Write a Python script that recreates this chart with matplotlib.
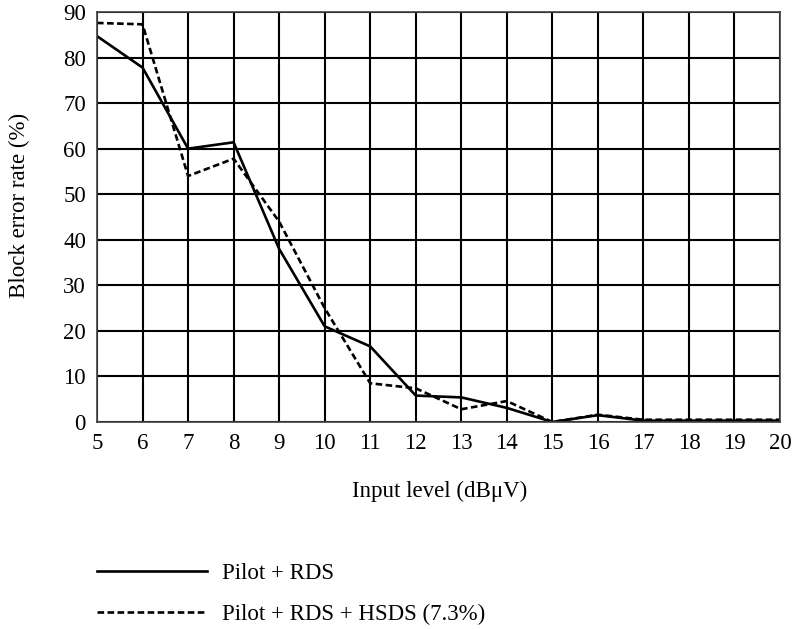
import matplotlib
matplotlib.use("Agg")
import matplotlib.pyplot as plt

input_level = [5, 6, 7, 8, 9, 10, 11, 12, 13, 14, 15, 16, 17, 18, 19, 20]
pilot_rds = [84.7, 77.8, 60.0, 61.4, 38.0, 21.0, 16.6, 5.8, 5.4, 3.1, 0.0, 1.5, 0.3, 0.3, 0.3, 0.3]
pilot_rds_hsds = [87.6, 87.3, 54.0, 57.8, 44.0, 25.0, 8.5, 7.4, 2.8, 4.6, 0.0, 1.6, 0.5, 0.5, 0.5, 0.5]
y_ticks = [0, 10, 20, 30, 40, 50, 60, 70, 80, 90]
labels = ["Pilot + RDS", "Pilot + RDS + HSDS (7.3%)"]

plt.rcParams['font.family'] = ['Liberation Serif', 'DejaVu Serif']

FS = 16.5
fig = plt.figure(figsize=(7.93, 6.29), dpi=100)
ax = fig.add_axes([97/793, 1 - 422/629, (780 - 97)/793, (422 - 12)/629])

l1, = ax.plot(input_level, pilot_rds, color='black', lw=1.9, linestyle='-')
l2, = ax.plot(input_level, pilot_rds_hsds, color='black', lw=1.9, linestyle=(0, (2.5, 1.3)))

ax.set_xlim(5, 20)
ax.set_ylim(0, 90)
ax.set_xticks(input_level)
ax.set_yticks(y_ticks)
ax.grid(True, color='black', lw=1.5)
ax.set_axisbelow(True)
for s in ax.spines.values():
    s.set_color('#404040')
    s.set_linewidth(1.2)
ax.tick_params(length=0, labelsize=FS, pad=8)
ax.set_xlabel("Input level (dBμV)", fontsize=FS)
ax.set_ylabel("Block error rate (%)", fontsize=FS)
ax.xaxis.set_label_coords((440 - 97) / 683, -(481 - 422) / 410)
ax.yaxis.set_label_coords(-(97 - 30) / 683, (422 - 205) / 410)

fig.legend([l1, l2], labels, loc='upper left', bbox_to_anchor=(97/793, 1 - 563/629),
           frameon=False, fontsize=FS, handlelength=4.8, handletextpad=0.65,
           labelspacing=0.85, borderaxespad=0, borderpad=0)

fig.savefig("out.png", dpi=100)
